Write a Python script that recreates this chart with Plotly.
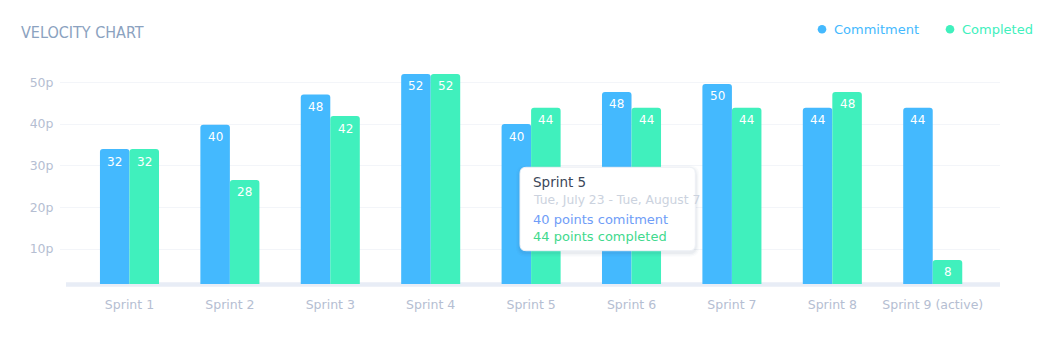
import plotly.graph_objects as go

sprints = ["Sprint 1", "Sprint 2", "Sprint 3", "Sprint 4", "Sprint 5",
           "Sprint 6", "Sprint 7", "Sprint 8", "Sprint 9 (active)"]
commitment = [34, 39.8, 47.1, 52, 40, 47.7, 49.6, 43.9, 43.9]
completed = [34, 26.6, 41.9, 52, 43.9, 43.9, 43.9, 47.7, 7.4]
commitment_labels = ["32", "40", "48", "52", "40", "48", "50", "44", "44"]
completed_labels = ["32", "28", "42", "52", "44", "44", "44", "48", "8"]
y_ticks = [10, 20, 30, 40, 50]
y_ticktext = ["10p", "20p", "30p", "40p", "50p"]
series_names = ["Commitment", "Completed"]

BLUE = "#44b9fe"
GREEN = "#40f0bd"
FONT = "DejaVu Sans"

fig = go.Figure()
fig.add_trace(go.Bar(x=sprints, y=commitment, name=series_names[0],
                     marker=dict(color=BLUE, line=dict(width=0)), showlegend=False))
fig.add_trace(go.Bar(x=sprints, y=completed, name=series_names[1],
                     marker=dict(color=GREEN, line=dict(width=0)), showlegend=False))

L, R, T, B = 60, 56, 60, 60
W, H = 1056, 344
pw, ph = W - L - R, H - T - B


def px(x):
    return (x - L) / pw


def py(y):
    return (H - B - y) / ph


annotations = []
# value labels inside bar tops
for vals, labels, shift in [(commitment, commitment_labels, -14.8),
                            (completed, completed_labels, 14.8)]:
    for s, v, lab in zip(sprints, vals, labels):
        annotations.append(dict(x=s, y=v, xref="x", yref="y", text=lab, showarrow=False,
                                xshift=shift, yshift=-12.5, yanchor="middle",
                                font=dict(color="white", size=12, family=FONT)))

# baseline
shapes = [dict(type="line", xref="paper", yref="paper", x0=px(66), x1=px(1000),
               y0=py(284.5), y1=py(284.5), line=dict(color="#e8edf6", width=4.5),
               layer="below")]

# legend: round markers + coloured labels
for name, col, mx in [(series_names[0], BLUE, 822), (series_names[1], GREEN, 950)]:
    shapes.append(dict(type="circle", xref="paper", yref="paper",
                       xsizemode="pixel", ysizemode="pixel",
                       xanchor=px(mx), yanchor=py(29.3),
                       x0=-4.3, x1=4.3, y0=-4.3, y1=4.3,
                       fillcolor=col, line=dict(width=0)))
    annotations.append(dict(text=name, x=px(mx + 10), y=py(29.3), xref="paper", yref="paper",
                            xanchor="left", yanchor="middle", showarrow=False,
                            font=dict(size=13, color=col, family=FONT)))


def rrect(x0, y0, x1, y1, r):
    rx, ry = r / pw, r / ph
    X0, X1 = px(x0), px(x1)
    Y0, Y1 = py(y1), py(y0)
    return (f"M {X0+rx},{Y1} L {X1-rx},{Y1} Q {X1},{Y1} {X1},{Y1-ry} "
            f"L {X1},{Y0+ry} Q {X1},{Y0} {X1-rx},{Y0} L {X0+rx},{Y0} "
            f"Q {X0},{Y0} {X0},{Y0+ry} L {X0},{Y1-ry} Q {X0},{Y1} {X0+rx},{Y1} Z")


# tooltip shadow + box
for i, op in enumerate([0.025, 0.035, 0.05]):
    d = 4 - i * 1.3
    shapes.append(dict(type="path", xref="paper", yref="paper",
                       path=rrect(520 - d, 167.3 - d + 2, 695.3 + d, 250.7 + d + 2, 6 + d),
                       fillcolor=f"rgba(60,80,120,{op})", line=dict(width=0), layer="above"))
shapes.append(dict(type="path", xref="paper", yref="paper",
                   path=rrect(520, 167.3, 695.3, 250.7, 6),
                   fillcolor="white", line=dict(color="#eef1f6", width=1), layer="above"))

tip_x = px(530.8)
annotations += [
    dict(text="Sprint 5", x=tip_x, y=py(181.7), xref="paper", yref="paper",
         xanchor="left", yanchor="middle", showarrow=False,
         font=dict(size=13.5, color="#3b4759", family=FONT)),
    dict(text="Tue, July 23 - Tue, August 7", x=tip_x, y=py(200), xref="paper", yref="paper",
         xanchor="left", yanchor="middle", showarrow=False,
         font=dict(size=12.3, color="#cbd2de", family=FONT)),
    dict(text="40 points comitment", x=tip_x, y=py(219.3), xref="paper", yref="paper",
         xanchor="left", yanchor="middle", showarrow=False,
         font=dict(size=13, color="#6f9df7", family=FONT)),
    dict(text="44 points completed", x=tip_x, y=py(236), xref="paper", yref="paper",
         xanchor="left", yanchor="middle", showarrow=False,
         font=dict(size=13, color="#3fd98d", family=FONT)),
]

fig.update_layout(
    width=W, height=H,
    margin=dict(l=L, r=R, t=T, b=B),
    paper_bgcolor="white", plot_bgcolor="white",
    font=dict(family=FONT, color="#b5bed2"),
    barmode="group", bargap=0.412, bargroupgap=0, barcornerradius=3,
    showlegend=False,
    title=dict(text="VELOCITY CHART", xref="container", yref="container",
               x=21 / W, xanchor="left", y=1 - 32 / H, yanchor="middle",
               font=dict(family="Liberation Sans Narrow, DejaVu Sans Condensed, sans-serif",
                         size=16, color="#8ba2c0")),
    xaxis=dict(type="category", range=[-0.692, 8.67], showgrid=False, zeroline=False,
               showline=False, ticks="outside", ticklen=9, tickcolor="rgba(0,0,0,0)",
               tickfont=dict(size=12.5, color="#b5bed2", family=FONT)),
    yaxis=dict(range=[1.63, 55.35], tickvals=y_ticks, ticktext=y_ticktext,
               showgrid=True, gridcolor="#f3f5f9", gridwidth=1, zeroline=False,
               showline=False, ticks="outside", ticklen=3, tickcolor="rgba(0,0,0,0)",
               tickfont=dict(size=12.5, color="#b5bed2", family=FONT)),
    shapes=shapes, annotations=annotations,
    hovermode=False,
)

fig.write_html("out.html")
